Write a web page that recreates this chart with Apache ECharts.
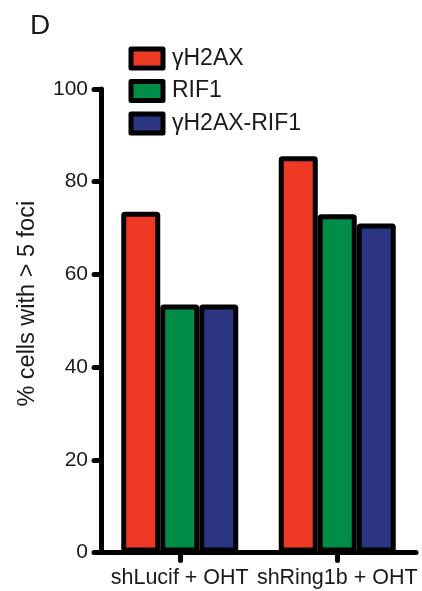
<!DOCTYPE html>
<html>
<head>
<meta charset="utf-8">
<script src="https://cdn.jsdelivr.net/npm/echarts@6/dist/echarts.min.js"></script>
<style>
html,body{margin:0;padding:0;background:#fff;}
#chart{width:422px;height:591px;}
</style>
</head>
<body>
<div id="chart"></div>
<script>
const categories = ['shLucif + OHT', 'shRing1b + OHT'];
const seriesNames = ['γH2AX', 'RIF1', 'γH2AX-RIF1'];
const gH2AX = [73.5, 85.5];
const RIF1 = [53.5, 73];
const gH2AX_RIF1 = [53.5, 71];
const yTicks = [0, 20, 40, 60, 80, 100];
const colors = ['#EE3A24', '#008D48', '#2C3582'];

const FONT = "'Liberation Sans', Arial, sans-serif";
const seriesData = [gH2AX, RIF1, gH2AX_RIF1];

const chart = echarts.init(document.getElementById('chart'), null, {renderer: 'canvas'});
chart.setOption({
  animation: false,
  backgroundColor: '#fff',
  title: {
    text: 'D',
    left: 30,
    top: 12,
    padding: 0,
    textStyle: {fontFamily: FONT, fontSize: 28, fontWeight: 'normal', color: '#1a1a1a'}
  },
  legend: {
    orient: 'vertical',
    left: 128.5,
    top: 46.5,
    padding: 0,
    icon: 'rect',
    itemWidth: 32,
    itemHeight: 19,
    itemGap: 8.5,
    itemStyle: {borderWidth: 5, borderColor: '#000'},
    textStyle: {fontFamily: FONT, fontSize: 23, lineHeight: 23, color: '#1a1a1a', padding: [0, 0, 0, 4]},
    data: seriesNames
  },
  grid: {left: 101, right: 6, top: 89, bottom: 38.5, containLabel: false},
  xAxis: {
    type: 'category',
    data: categories,
    axisLine: {show: true, lineStyle: {color: '#000', width: 5, cap: 'round'}},
    axisTick: {show: true, alignWithLabel: true, interval: 0, length: 8, lineStyle: {color: '#000', width: 5, cap: 'round'}},
    axisLabel: {interval: 0, hideOverlap: false, fontFamily: FONT, fontSize: 21.5, color: '#1a1a1a', margin: 15}
  },
  yAxis: {
    type: 'value',
    min: yTicks[0],
    max: yTicks[yTicks.length - 1],
    interval: yTicks[1] - yTicks[0],
    name: '% cells with > 5 foci',
    nameLocation: 'middle',
    nameGap: 61,
    nameTextStyle: {fontFamily: FONT, fontSize: 23.5, color: '#1a1a1a', padding: [0, 0, 0, 34]},
    splitLine: {show: false},
    axisLine: {show: true, lineStyle: {color: '#000', width: 5, cap: 'round'}},
    axisTick: {show: true, length: 7, lineStyle: {color: '#000', width: 5, cap: 'round'}},
    axisLabel: {fontFamily: FONT, fontSize: 21, color: '#1a1a1a', margin: 13}
  },
  series: seriesNames.map((name, i) => ({
    name: name,
    type: 'bar',
    data: seriesData[i],
    barWidth: 39,
    barGap: '0%',
    itemStyle: {color: colors[i], borderColor: '#000', borderWidth: 5, borderJoin: 'round', borderRadius: 1}
  }))
});
</script>
</body>
</html>
